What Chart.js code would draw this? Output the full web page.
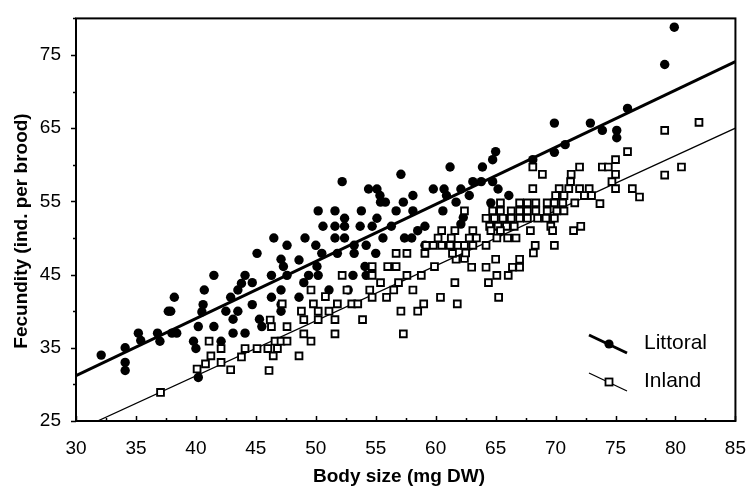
<!DOCTYPE html>
<html>
<head>
<meta charset="utf-8">
<script src="https://cdn.jsdelivr.net/npm/chart.js@4.4.0/dist/chart.umd.min.js"></script>
<style>
html,body{margin:0;padding:0;background:#fff;}
#c{display:block;}
</style>
</head>
<body>
<canvas id="c" width="754" height="486"></canvas>
<script>
// ---- data ----
const seriesNames = ['Littoral', 'Inland'];
const xTickValues = [30, 35, 40, 45, 50, 55, 60, 65, 70, 75, 80, 85];
const yTickValues = [25, 35, 45, 55, 65, 75];
const xLabel = 'Body size (mg DW)';
const yLabel = 'Fecundity (ind. per brood)';

const littoral = [
 [32.1,34.0],[34.1,35.0],[34.1,33.0],[34.1,31.9],[35.2,37.0],[35.4,36.0],[36.8,37.0],[37.0,35.9],
 [37.7,40.0],[37.9,40.0],[38.2,41.9],[38.0,37.0],[38.4,37.0],[39.8,35.9],[40.0,34.9],[40.2,30.95],
 [40.2,37.9],[40.5,39.9],[40.6,40.9],[40.7,42.9],[41.5,44.9],[41.5,37.9],[42.1,35.9],[42.5,40.0],
 [42.9,41.9],[43.1,38.9],[43.1,37.0],[43.5,40.0],[43.5,42.9],[43.8,43.8],[44.1,44.9],[44.1,37.0],
 [44.7,43.9],[44.7,40.9],[45.1,47.9],[45.3,38.9],[45.5,37.9],[46.3,44.9],[46.3,41.9],
 [47.1,47.1],[47.3,46.1],[47.6,44.9],[47.1,42.9],[47.1,40.9],[47.1,40.0],[48.6,47.0],[48.6,41.9],
 [49.0,43.9],[49.4,44.9],[50.1,46.1],[50.2,44.9],[50.5,47.9],[51.1,42.9],[51.8,47.9],[52.7,42.9],
 [53.1,44.9],[53.2,47.9],[54.1,46.1],[54.2,44.9],[55.0,47.9],
 [46.5,50.0],[47.6,49.0],[49.1,50.0],[50.0,49.0],[50.2,53.7],[50.6,51.6],[51.6,53.7],[51.6,51.6],
 [51.6,50.0],[52.2,57.7],[52.4,52.7],[52.4,51.6],[52.4,50.0],[53.2,49.0],[53.7,51.6],[53.8,53.7],
 [54.2,49.0],[54.4,56.7],[54.7,51.6],[55.1,56.7],[55.1,52.7],[55.35,55.8],[55.4,54.9],[55.8,54.9],
 [55.6,50.0],[56.3,51.6],[56.7,53.7],[57.1,58.7],[57.3,54.9],[57.4,50.0],[58.0,50.0],[58.1,55.8],
 [58.1,53.7],[58.5,51.0],[59.1,51.6],[59.1,49.0],[59.8,56.7],[60.6,53.7],[60.7,56.7],[60.9,55.8],
 [61.2,59.7],[61.7,54.9],[62.1,51.9],[62.1,56.7],[62.3,52.8],
 [62.8,55.8],[63.1,57.7],[63.8,57.7],[63.9,59.7],[64.75,60.7],[65.0,61.8],[64.75,57.7],[65.2,56.7],
 [64.6,54.8],[66.1,55.8],[68.1,60.7],[69.9,65.7],[69.9,61.7],[70.8,62.75],[72.9,65.7],[73.9,64.7],
 [75.1,64.7],[75.1,63.7],[76.0,67.7],[79.1,73.7],[79.9,78.8]
];

const inland = [
 [37.05,28.9],[40.1,32.1],[40.8,32.8],[41.1,35.9],[41.25,33.9],[42.1,34.9],[42.1,33.0],[42.9,32.0],
 [43.8,33.75],[44.1,34.9],[45.1,34.9],[46.0,34.9],[46.2,38.8],[46.3,37.9],[46.1,31.9],[46.45,33.9],
 [46.6,35.9],[46.8,34.9],[47.1,35.9],[47.6,35.9],[47.6,37.9],[47.2,41.0],[48.6,33.9],[48.8,40.0],
 [49.0,38.85],[49.0,36.9],[49.6,35.9],[49.6,42.9],[49.8,41.0],[50.2,40.0],[50.2,38.85],[50.8,42.0],
 [51.1,40.0],[51.6,38.85],[51.6,36.9],[51.8,41.0],[52.2,44.9],[52.6,42.9],[53.0,41.0],[53.5,41.0],
 [53.9,38.85],[54.5,42.9],[54.7,46.1],[54.7,44.9],[54.7,41.9],[55.4,43.9],[55.9,41.9],[56.0,46.1],
 [56.7,46.1],[56.5,42.9],[56.7,47.9],[56.9,43.9],[57.1,40.0],[57.3,36.9],[57.6,47.9],[57.6,44.9],
 [58.1,42.9],[58.5,40.0],[58.8,44.9],[59.0,41.0],[59.1,47.9],[59.9,46.1],[60.4,41.9],[61.6,43.9],
 [61.7,47.1],[61.8,41.0],[61.4,47.9],
 [59.2,49.0],[59.8,49.0],[60.5,49.0],[61.2,49.0],[61.85,49.0],[62.4,49.0],[60.5,51.0],[61.6,51.0],
 [62.4,53.7],[60.2,50.0],[61.3,50.0],[62.4,47.2],
 [76.0,61.8],[75.0,60.7],[73.9,59.7],[74.4,59.7],[72.0,59.7],[75.0,58.7],[71.3,58.7],[68.1,59.7],
 [68.9,58.7],[71.25,57.7],[74.7,57.7],[70.3,56.75],[71.1,56.75],[72.0,56.75],[72.8,56.75],[68.1,56.75],
 [75.0,56.75],[76.4,56.75],[77.0,55.6],[70.0,55.8],[70.7,55.8],[72.4,55.8],[73.0,55.8],[73.7,54.7],
 [65.4,54.8],[67.0,54.8],[67.65,54.8],[68.35,54.8],[69.3,54.8],[69.9,54.8],[70.6,54.8],[71.6,54.8],
 [64.75,53.7],[65.4,53.7],[66.3,53.7],[67.0,53.7],[67.65,53.7],[68.35,53.7],[69.3,53.7],[70.1,53.7],[70.7,53.7],
 [64.2,52.7],[64.9,52.7],[65.6,52.7],[66.3,52.7],[67.0,52.7],[67.65,52.7],[68.5,52.7],[69.2,52.7],[69.9,52.7],
 [64.5,51.6],[65.2,51.6],[65.9,51.6],[66.55,51.6],[69.6,51.6],
 [63.1,51.0],[62.8,50.0],[63.4,50.0],[64.6,51.0],[65.4,51.0],[67.9,51.0],[69.75,51.0],[71.5,51.0],
 [72.1,51.6],[65.1,50.0],[66.0,50.0],[66.7,50.0],[63.1,49.0],[64.2,49.0],[68.3,49.0],[69.9,49.0],
 [68.15,47.95],[62.5,47.95],[65.0,47.1],[67.0,47.1],
 [81.96,65.8],[79.1,64.7],[80.5,59.7],[79.1,58.6],
 [63.0,46.0],[64.2,46.0],[65.1,44.9],[64.4,43.9],[66.05,44.9],[66.4,46.0],[67.0,46.0],[65.25,41.9]
];

// fitted regression lines (end points)
const littoralFit = [[30, 31.2], [85, 74.1]];
const inlandFit = [[31.8, 25.0], [85, 65.0]];

const toPts = a => a.map(p => ({x: p[0], y: p[1]}));
const FONT = 'Liberation Sans, Arial, Helvetica, sans-serif';

const decor = {
  id: 'decor',
  afterDraw(chart) {
    const ctx = chart.ctx, a = chart.chartArea;
    const xs = chart.scales.x, ys = chart.scales.y;
    ctx.save();
    ctx.strokeStyle = '#000';
    ctx.fillStyle = '#000';
    // frame
    ctx.lineWidth = 2;
    ctx.strokeRect(a.left, a.top, a.right - a.left, a.bottom - a.top);
    // y ticks (outward), major + minor
    ctx.lineWidth = 1.5;
    ctx.beginPath();
    for (let v = ys.min; v <= ys.max + 1e-9; v += 5) {
      const py = Math.round(ys.getPixelForValue(v)) + 0.5;
      const major = yTickValues.includes(v);
      ctx.moveTo(a.left, py);
      ctx.lineTo(a.left - (major ? 5 : 3), py);
    }
    // x ticks (inward), major + minor
    for (let v = xs.min; v <= xs.max + 1e-9; v += 2.5) {
      const px = Math.round(xs.getPixelForValue(v)) + 0.5;
      const major = xTickValues.includes(v);
      ctx.moveTo(px, a.bottom);
      ctx.lineTo(px, a.bottom - (major ? 5 : 3));
    }
    ctx.stroke();

    // axis titles
    ctx.font = 'bold 19px ' + FONT;
    ctx.textAlign = 'center';
    ctx.textBaseline = 'middle';
    ctx.fillText(xLabel, 399, 477);
    ctx.save();
    ctx.translate(22, 231);
    ctx.rotate(-Math.PI / 2);
    ctx.fillText(yLabel, 0, 0);
    ctx.restore();

    // legend
    ctx.lineWidth = 3;
    ctx.beginPath();
    ctx.moveTo(589, 335); ctx.lineTo(627, 353);
    ctx.stroke();
    ctx.beginPath();
    ctx.arc(609, 344, 4.6, 0, Math.PI * 2);
    ctx.fill();
    ctx.lineWidth = 1.3;
    ctx.beginPath();
    ctx.moveTo(589, 373); ctx.lineTo(627, 391);
    ctx.stroke();
    ctx.fillStyle = '#fff';
    ctx.fillRect(605.5, 378.5, 7, 7);
    ctx.lineWidth = 1.8;
    ctx.strokeRect(605.5, 378.5, 7, 7);
    ctx.fillStyle = '#000';
    ctx.font = '21px ' + FONT;
    ctx.textAlign = 'left';
    ctx.fillText(seriesNames[0], 644, 343);
    ctx.fillText(seriesNames[1], 644, 381);
    ctx.restore();
  }
};

new Chart(document.getElementById('c'), {
  type: 'scatter',
  data: {
    datasets: [
      {label: seriesNames[1], data: toPts(inland), pointStyle: 'rect', pointRadius: 4.8,
       borderWidth: 1.9, borderColor: '#000', backgroundColor: '#fff'},
      {label: seriesNames[0], data: toPts(littoral), pointStyle: 'circle', pointRadius: 4.7,
       borderWidth: 0, backgroundColor: '#000'},
      {type: 'line', label: 'fitL', data: toPts(littoralFit), borderColor: '#000', borderWidth: 3,
       pointRadius: 0, fill: false},
      {type: 'line', label: 'fitI', data: toPts(inlandFit), borderColor: '#000', borderWidth: 1.3,
       pointRadius: 0, fill: false}
    ]
  },
  options: {
    responsive: false,
    animation: false,
    events: [],
    layout: {padding: {top: 14, right: 15, left: 0, bottom: 0}},
    plugins: {legend: {display: false}, tooltip: {enabled: false}},
    scales: {
      x: {
        type: 'linear', min: 30, max: 85,
        afterBuildTicks: s => { s.ticks = xTickValues.map(v => ({value: v})); },
        afterFit: s => { s.height = 65; },
        grid: {display: false}, border: {display: false},
        ticks: {color: '#000', font: {family: FONT, size: 19}, padding: 8, maxRotation: 0, autoSkip: false}
      },
      y: {
        type: 'linear', min: 25, max: 80,
        afterBuildTicks: s => { s.ticks = yTickValues.map(v => ({value: v})); },
        afterFit: s => { s.width = 76; },
        grid: {display: false}, border: {display: false},
        ticks: {color: '#000', font: {family: FONT, size: 19}, padding: 7, autoSkip: false}
      }
    }
  },
  plugins: [decor]
});
</script>
</body>
</html>
